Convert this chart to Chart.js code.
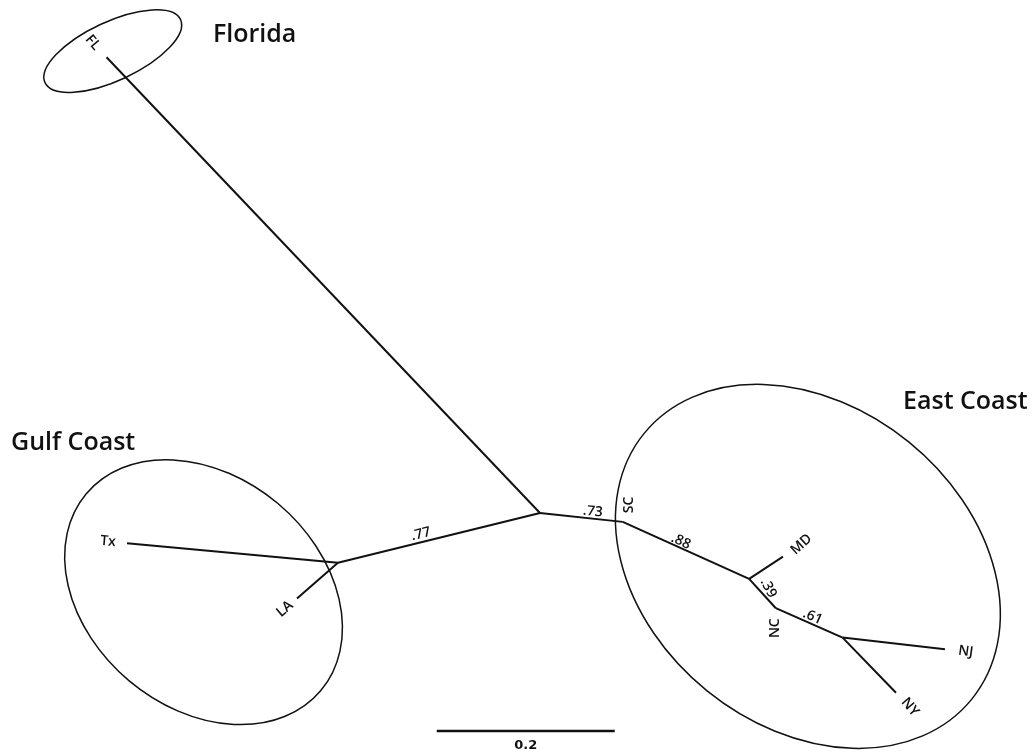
<!DOCTYPE html>
<html>
<head>
<meta charset="utf-8">
<script src="https://cdn.jsdelivr.net/npm/chart.js@4.4.0/dist/chart.umd.min.js"></script>
<style>
  html, body { margin: 0; padding: 0; background: #fff; }
  #wrap { width: 1036px; height: 753px; position: relative; }
</style>
</head>
<body>
<div id="wrap"><canvas id="tree"></canvas></div>
<script>
// Tree layout in branch-length units (root at 0,0, y pointing up)
const nodeNames = ['root', 'FL', 'GC', 'Tx', 'LA', 'SC', 'MDn', 'MD', 'NC', 'NJNY', 'NJ', 'NY'];
const nodeX = [0, -0.487, -0.227, -0.464, -0.273, 0.093, 0.235, 0.273, 0.265, 0.340, 0.455, 0.400];
const nodeY = [0, 0.512, -0.056, -0.034, -0.096, -0.010, -0.074, -0.049, -0.107, -0.140, -0.153, -0.202];

// Branches (parent -> child)
const edgeFrom = ['root', 'root', 'GC', 'GC', 'root', 'SC', 'MDn', 'MDn', 'NC', 'NJNY', 'NJNY'];
const edgeTo = ['FL', 'GC', 'Tx', 'LA', 'SC', 'MDn', 'MD', 'NC', 'NJNY', 'NJ', 'NY'];

// Support values and the branch each one sits on
const supportFrom = ['GC', 'root', 'SC', 'MDn', 'NC'];
const supportTo = ['root', 'SC', 'MDn', 'NC', 'NJNY'];
const supportValues = ['.77', '.73', '.88', '.39', '.61'];

const leafNames = ['FL', 'Tx', 'LA', 'MD', 'NJ', 'NY'];
const innerNames = ['SC', 'NC'];

// Regional groups (ellipses)
const groupNames = ['Florida', 'Gulf Coast', 'East Coast'];
const groupCx = [-0.480, -0.378, 0.301];
const groupCy = [0.519, -0.089, -0.060];
const groupRx = [0.084, 0.172, 0.237];
const groupRy = [0.033, 0.130, 0.180];
const groupAngle = [-25, 40, 39];

const scaleBarLength = 0.2;

// --- styling (pixels) ---
const leafStyle = {
    FL: { d: 20, rot: 50 },
    Tx: { d: 19, rot: 5 },
    LA: { d: 16, rot: -40 },
    MD: { d: 22, rot: -42 },
    NJ: { d: 21, rot: 8 },
    NY: { d: 20, rot: 50 }
};
const innerStyle = {
    SC: { dx: 6, dy: -17, rot: -90 },
    NC: { dx: -1, dy: 20, rot: -90 }
};
const supportStyle = [
    { t: 0.42, off: 8 },
    { t: 0.63, off: 7 },
    { t: 0.44, off: 6 },
    { t: 0.50, off: 8, rot: 62 },
    { t: 0.51, off: 7 }
];
const titleStyle = [
    { x: 213, y: 42 },
    { x: 11, y: 450 },
    { x: 903, y: 409 }
];

const idx = name => nodeNames.indexOf(name);
const pt = name => ({ x: nodeX[idx(name)], y: nodeY[idx(name)] });

const datasets = edgeFrom.map((from, i) => ({
    data: [pt(from), pt(edgeTo[i])],
    showLine: true,
    borderColor: '#111',
    borderWidth: 2,
    pointRadius: 0,
    tension: 0
}));

// scale bar, placed under the tree
const barStart = { x: -0.116, y: -0.245 };
datasets.push({
    data: [barStart, { x: barStart.x + scaleBarLength, y: barStart.y }],
    showLine: true,
    borderColor: '#111',
    borderWidth: 2.5,
    pointRadius: 0
});

const treeDecor = {
    id: 'treeDecor',
    afterDatasetsDraw(chart) {
        const { ctx, scales: { x, y } } = chart;
        const px = p => ({ x: x.getPixelForValue(p.x), y: y.getPixelForValue(p.y) });
        const unit = Math.abs(x.getPixelForValue(1) - x.getPixelForValue(0));

        ctx.save();
        // group ellipses
        ctx.strokeStyle = '#111';
        ctx.lineWidth = 1.5;
        groupNames.forEach((g, i) => {
            const c = px({ x: groupCx[i], y: groupCy[i] });
            ctx.beginPath();
            ctx.ellipse(c.x, c.y, groupRx[i] * unit, groupRy[i] * unit,
                groupAngle[i] * Math.PI / 180, 0, Math.PI * 2);
            ctx.stroke();
        });

        const drawText = (text, cx, cy, rotDeg, font) => {
            ctx.save();
            ctx.translate(cx, cy);
            ctx.rotate(rotDeg * Math.PI / 180);
            ctx.font = font;
            ctx.fillStyle = '#111';
            ctx.textAlign = 'center';
            ctx.textBaseline = 'middle';
            ctx.fillText(text, 0, 0);
            ctx.restore();
        };
        const labelFont = '600 14px "Open Sans"';

        // leaf labels, pushed out along the branch direction
        leafNames.forEach(name => {
            const e = edgeTo.indexOf(name);
            const a = px(pt(edgeFrom[e]));
            const b = px(pt(name));
            const len = Math.hypot(b.x - a.x, b.y - a.y);
            const s = leafStyle[name];
            drawText(name, b.x + (b.x - a.x) / len * s.d, b.y + (b.y - a.y) / len * s.d, s.rot, labelFont);
        });

        // internal node labels
        innerNames.forEach(name => {
            const b = px(pt(name));
            const s = innerStyle[name];
            drawText(name, b.x + s.dx, b.y + s.dy, s.rot, labelFont);
        });

        // support values along branches
        supportValues.forEach((v, i) => {
            const a = px(pt(supportFrom[i]));
            const b = px(pt(supportTo[i]));
            const dx = b.x - a.x, dy = b.y - a.y;
            const len = Math.hypot(dx, dy);
            const s = supportStyle[i];
            const mx = a.x + dx * s.t + (dy / len) * s.off;
            const my = a.y + dy * s.t - (dx / len) * s.off;
            const rot = s.rot !== undefined ? s.rot : Math.atan2(dy, dx) * 180 / Math.PI;
            drawText(v, mx, my, rot, labelFont);
        });

        // scale bar label
        const bs = px(barStart);
        drawText(String(scaleBarLength), bs.x + scaleBarLength * unit / 2, bs.y + 15, 0, 'bold 13px "DejaVu Sans"');

        // group titles
        ctx.font = '600 25px "Open Sans"';
        ctx.fillStyle = '#111';
        ctx.textAlign = 'left';
        ctx.textBaseline = 'alphabetic';
        groupNames.forEach((g, i) => ctx.fillText(g, titleStyle[i].x, titleStyle[i].y));
        ctx.restore();
    }
};

new Chart(document.getElementById('tree'), {
    type: 'scatter',
    data: { datasets },
    options: {
        responsive: true,
        maintainAspectRatio: false,
        animation: false,
        layout: { padding: 0 },
        scales: {
            x: { type: 'linear', display: false, min: -0.6067, max: 0.5573 },
            y: { type: 'linear', display: false, min: -0.2697, max: 0.5764 }
        },
        plugins: {
            legend: { display: false },
            tooltip: { enabled: false }
        }
    },
    plugins: [treeDecor]
});
</script>
</body>
</html>
